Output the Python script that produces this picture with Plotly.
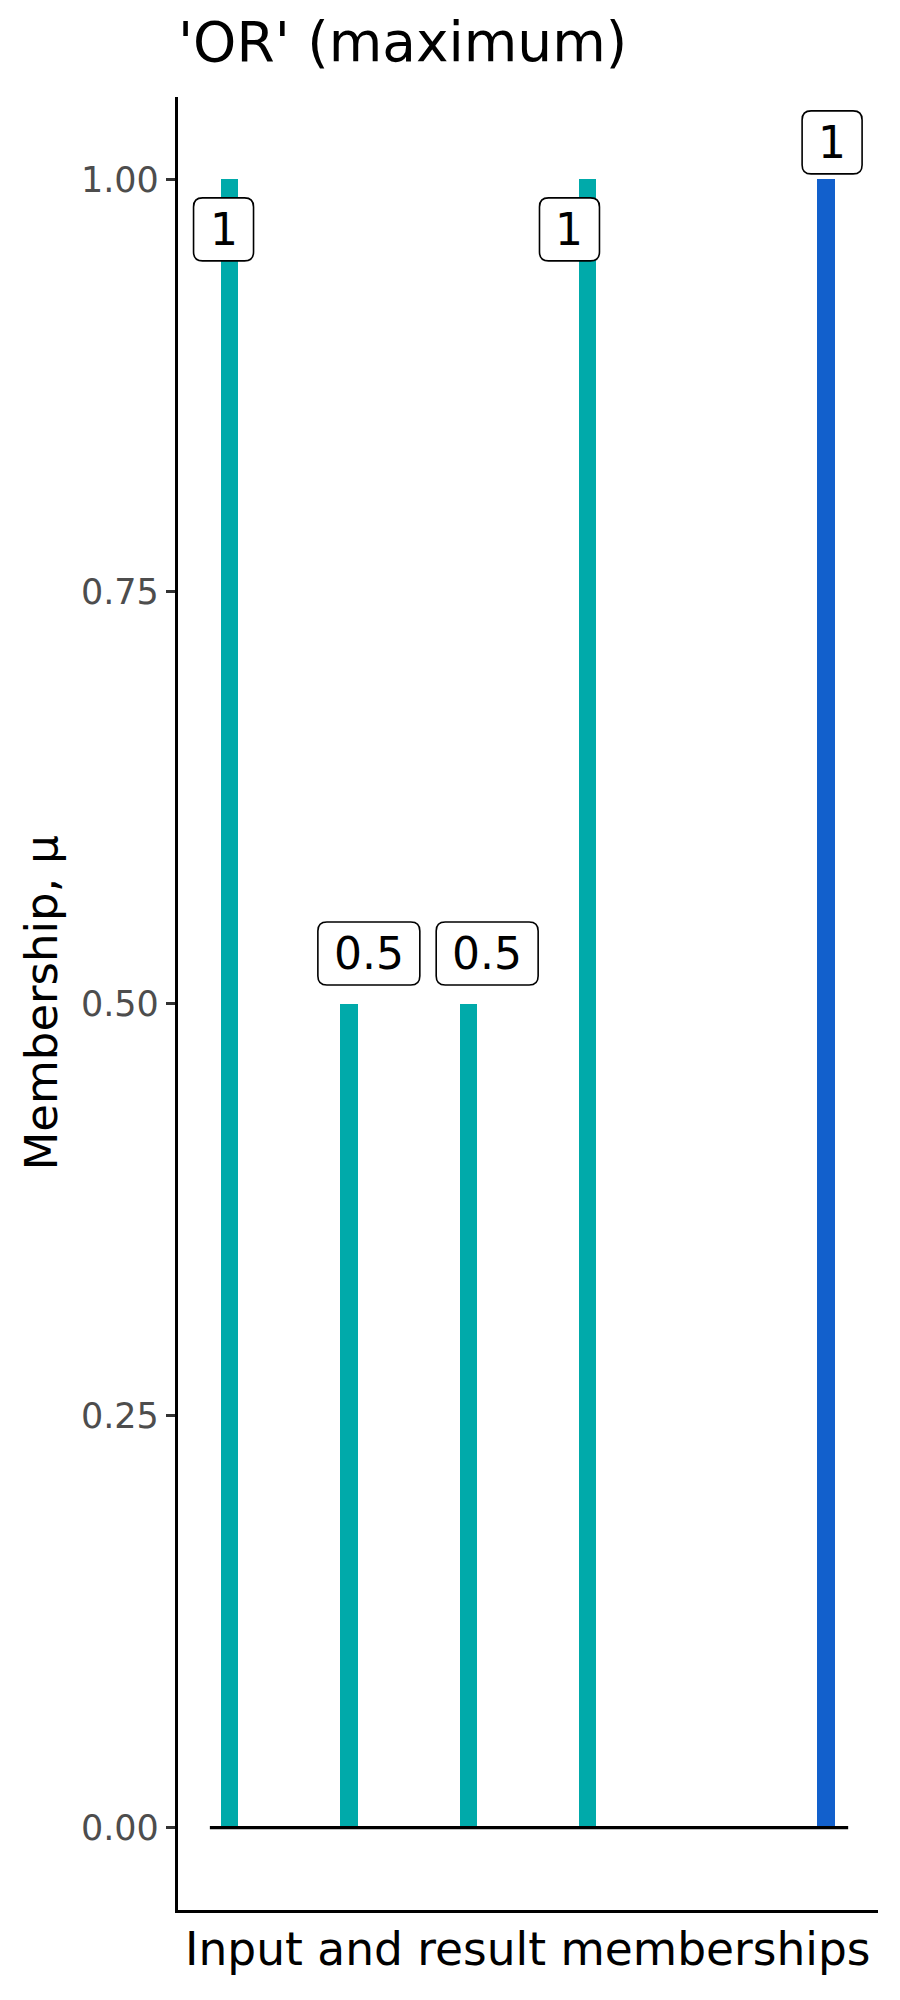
import plotly.graph_objects as go

# ---- data ----
positions = [1, 2, 3, 4, 6]
memberships = [1.0, 0.5, 0.5, 1.0, 1.0]
kinds = ["input", "input", "input", "input", "result"]
label_texts = ["1", "0.5", "0.5", "1", "1"]
baseline_x = [0.835, 6.185]
baseline_y = [0, 0]
y_ticks = [0.0, 0.25, 0.5, 0.75, 1.0]
y_tick_labels = ["0.00", "0.25", "0.50", "0.75", "1.00"]

title_text = "'OR' (maximum)"
x_title = "Input and result memberships"
y_title = "Membership, μ"

# ---- style ----
colors = {"input": "#00AAAA", "result": "#1260CC"}
FONT = "DejaVu Sans"
# label offsets (pixels, relative to the top of each segment), mimicking repel
label_dx = [-6, 20, 19, -18, 6]
label_dy = [-50, 50, 50, -50, 37]
label_font = 44

# the page body has an 8px margin; size the figure so the plot lands in place
W, H = 892, 1992
ML, MR, MT, MB = 170, 22, 89, 90
PW, PH = W - ML - MR, H - MT - MB

fig = go.Figure()

fig.add_trace(go.Bar(
    x=positions, y=memberships, width=0.145,
    marker=dict(color=[colors[k] for k in kinds], line=dict(width=0)),
    hoverinfo="skip", showlegend=False,
))

fig.add_trace(go.Scatter(
    x=baseline_x, y=baseline_y, mode="lines",
    line=dict(color="black", width=3.2), hoverinfo="skip", showlegend=False,
))


def text_width(s, size):
    w = 0
    for ch in s:
        w += 0.318 if ch == "." else 0.636
    return w * size


def rounded_path(cx, cy, w, h, r):
    x0, x1 = cx - w / 2, cx + w / 2
    y0, y1 = cy - h / 2, cy + h / 2
    return (f"M{x0+r},{y0} L{x1-r},{y0} Q{x1},{y0} {x1},{y0+r} "
            f"L{x1},{y1-r} Q{x1},{y1} {x1-r},{y1} L{x0+r},{y1} "
            f"Q{x0},{y1} {x0},{y1-r} L{x0},{y0+r} Q{x0},{y0} {x0+r},{y0} Z")


for xp, v, t, dx, dy in zip(positions, memberships, label_texts, label_dx, label_dy):
    w = text_width(t, label_font) + 32
    h = 63
    fig.add_shape(
        type="path", xref="x", yref="y",
        xsizemode="pixel", ysizemode="pixel", xanchor=xp, yanchor=v,
        path=rounded_path(dx, dy, w, h, 9),
        line=dict(color="black", width=1.6), fillcolor="white", layer="above",
    )
    fig.add_annotation(
        x=xp, y=v, xref="x", yref="y", text=t, showarrow=False,
        xshift=dx, yshift=dy, xanchor="center", yanchor="middle",
        font=dict(family=FONT, size=label_font, color="black"),
    )

fig.add_annotation(
    x=0.5, y=-40 / PH, xref="paper", yref="paper", text=x_title, showarrow=False,
    xanchor="center", yanchor="middle",
    font=dict(family=FONT, size=45.5, color="black"),
)
fig.add_annotation(
    x=-137 / PW, y=0.5, xref="paper", yref="paper", text=y_title, showarrow=False,
    xanchor="center", yanchor="middle", textangle=-90,
    font=dict(family=FONT, size=45, color="black"),
)

fig.update_layout(
    width=W, height=H,
    margin=dict(l=ML, r=MR, t=MT, b=MB),
    paper_bgcolor="white", plot_bgcolor="white",
    title=dict(text=title_text, x=ML / W, xanchor="left", xref="container",
               y=1 - 34 / H, yanchor="middle", yref="container",
               font=dict(family=FONT, size=55, color="black")),
    font=dict(family=FONT),
    xaxis=dict(range=[0.568, 6.435], showgrid=False, zeroline=False,
               showticklabels=False, ticks="", showline=True,
               linecolor="black", linewidth=3.2, fixedrange=True),
    yaxis=dict(range=[-0.05, 1.05], showgrid=False, zeroline=False,
               tickvals=y_ticks, ticktext=y_tick_labels, ticks="outside",
               ticklen=9, tickwidth=3, tickcolor="#333333",
               tickfont=dict(family=FONT, size=35, color="#4D4D4D"),
               showline=True, linecolor="black", linewidth=3.2, fixedrange=True),
    bargap=0,
)

fig.write_html("out.html")
